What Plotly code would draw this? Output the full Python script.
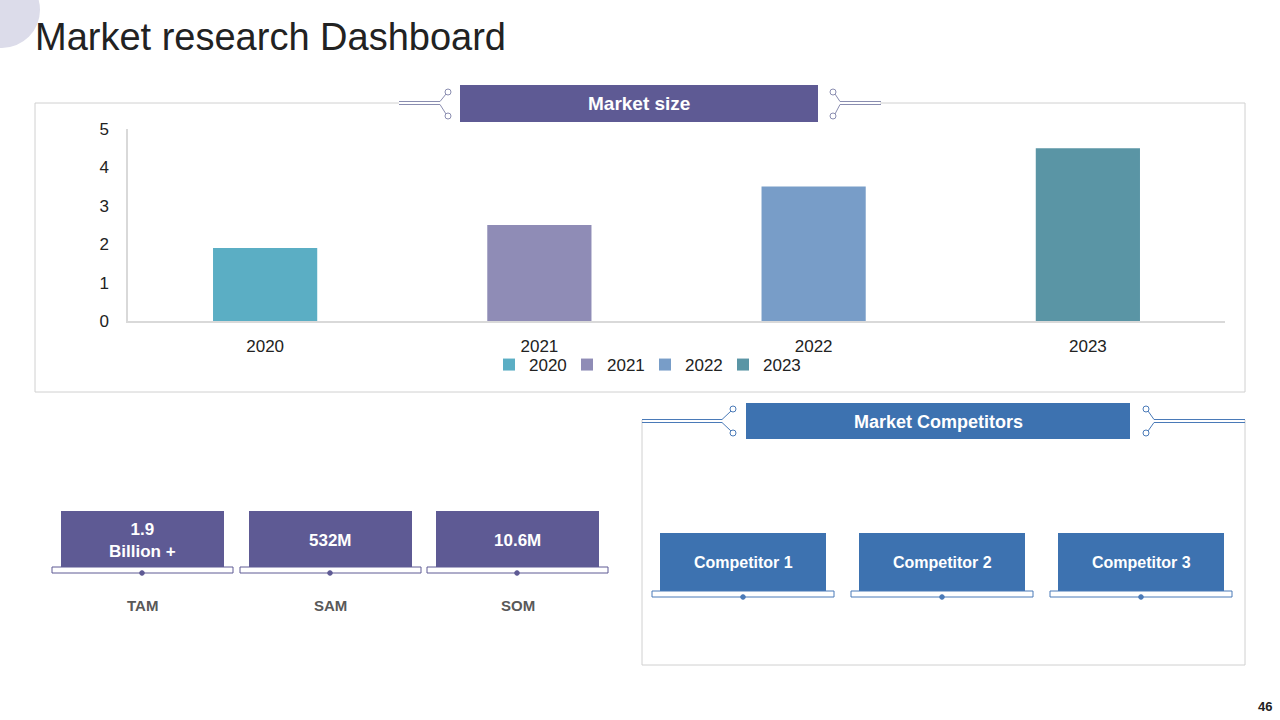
import plotly.graph_objects as go

# ---------------- data ----------------
years = ["2020", "2021", "2022", "2023"]
market_size = [1.9, 2.5, 3.5, 4.5]
bar_colors = ["#5BAEC4", "#8F8CB6", "#789DC8", "#5A95A5"]
y_ticks = [0, 1, 2, 3, 4, 5]

tam_values = ["1.9<br>Billion +", "532M", "10.6M"]
tam_labels = ["TAM", "SAM", "SOM"]
competitors = ["Competitor 1", "Competitor 2", "Competitor 3"]

W, H = 1280, 720
def X(p):
    return p / W
def Y(p):
    return 1 - p / H

PURPLE = "#5E5A94"
BLUE = "#3D72B0"
FONT = "Liberation Sans, Arial, sans-serif"

fig = go.Figure()
for yr, val, col in zip(years, market_size, bar_colors):
    fig.add_trace(go.Bar(x=[yr], y=[val], name=yr, marker_color=col,
                         width=0.38, marker_line_width=0, showlegend=True))

shapes = []
annotations = []

def line(x0, y0, x1, y1, color, w=1.0):
    shapes.append(dict(type="line", xref="paper", yref="paper",
                       x0=X(x0), y0=Y(y0), x1=X(x1), y1=Y(y1),
                       line=dict(color=color, width=w)))

def rect(x0, y0, x1, y1, fill, lc=None, lw=0):
    shapes.append(dict(type="rect", xref="paper", yref="paper",
                       x0=X(x0), y0=Y(y0), x1=X(x1), y1=Y(y1),
                       fillcolor=fill, line=dict(color=lc or fill, width=lw),
                       layer="above"))

def circ(cx, cy, r, fill, lc, lw=1):
    shapes.append(dict(type="circle", xref="paper", yref="paper",
                       x0=X(cx - r), y0=Y(cy + r), x1=X(cx + r), y1=Y(cy - r),
                       fillcolor=fill, line=dict(color=lc, width=lw), layer="above"))

def text(x, y, s, size, color, bold=False, xanchor="center"):
    annotations.append(dict(xref="paper", yref="paper", x=X(x), y=Y(y), text=(f"<b>{s}</b>" if bold else s),
                            showarrow=False, xanchor=xanchor, yanchor="middle",
                            font=dict(family=FONT, size=size, color=color)))

# top-left decorative circle
circ(2, 10, 38, "#DCDCEA", "#DCDCEA", 0)

# title
text(33, 37, "Market research Dashboard", 38, "#222222", xanchor="left")

# ---------- Market size box ----------
BOXC = "#D0D0D0"
line(35, 103, 35, 392, BOXC)
line(1245, 103, 1245, 392, BOXC)
line(35, 392, 1245, 392, BOXC)
line(35, 103, 399, 103, BOXC)
line(880, 103, 1245, 103, BOXC)

CON1 = "#8A8DB0"
def connectors(xl0, xl1, cxl, xr0, xr1, cxr, ytop, ybot, yline, color):
    # left
    line(xl0, yline - 1.5, xl1, yline - 1.5, color)
    line(xl0, yline + 1.5, xl1, yline + 1.5, color)
    line(xl1, yline - 1.5, cxl - 2, ytop + 2, color)
    line(xl1, yline + 1.5, cxl - 2, ybot - 2, color)
    circ(cxl, ytop, 3, "white", color)
    circ(cxl, ybot, 3, "white", color)
    # right
    line(xr0, yline - 1.5, xr1, yline - 1.5, color)
    line(xr0, yline + 1.5, xr1, yline + 1.5, color)
    line(xr0, yline - 1.5, cxr + 2, ytop + 2, color)
    line(xr0, yline + 1.5, cxr + 2, ybot - 2, color)
    circ(cxr, ytop, 3, "white", color)
    circ(cxr, ybot, 3, "white", color)

connectors(399, 440, 448, 840, 881, 833, 92, 116, 103, CON1)
rect(460, 85, 818, 122, PURPLE)
text(639, 104, "Market size", 19, "white", bold=True)

# ---------- TAM / SAM / SOM ----------
tam_x = [61, 249, 436]
for x0, val, lab in zip(tam_x, tam_values, tam_labels):
    x1 = x0 + 163
    cx = (x0 + x1) / 2
    rect(x0, 511, x1, 567, PURPLE)
    rect(x0 - 9, 567, x1 + 9, 573, "white", PURPLE, 1)
    circ(cx - 0.5, 573, 2.3, PURPLE, PURPLE)
    text(cx, 540, val, 17, "white", bold=True)
    text(cx, 605, lab, 15, "#595959", bold=True)

# ---------- Market Competitors box ----------
CON2 = "#4A7AB8"
line(642, 420, 642, 665, BOXC)
line(1245, 420, 1245, 665, BOXC)
line(642, 665, 1245, 665, BOXC)
connectors(642, 722, 733, 1154, 1245, 1146, 409, 433, 421, CON2)
rect(746, 403, 1130, 439, BLUE)
text(938, 422, "Market Competitors", 18, "white", bold=True)

comp_x = [660, 859, 1058]
for x0, name in zip(comp_x, competitors):
    x1 = x0 + 166
    cx = (x0 + x1) / 2
    rect(x0, 533, x1, 591, BLUE)
    rect(x0 - 8, 591, x1 + 8, 597, "white", CON2, 1)
    circ(cx, 597, 2.3, CON2, CON2)
    text(cx, 562, name, 16, "white", bold=True)

# page number
text(1265, 706, "46", 13, "#222222", bold=True)

fig.update_layout(
    width=W, height=H,
    margin=dict(l=0, r=0, t=0, b=0, pad=0, autoexpand=False),
    paper_bgcolor="white", plot_bgcolor="white",
    barmode="overlay",
    shapes=shapes, annotations=annotations,
    font=dict(family=FONT, color="#222222"),
    xaxis=dict(domain=[X(128), X(1225)], type="category", categoryorder="array",
               categoryarray=years, showline=True, linecolor="#D9D9D9", linewidth=1.5,
               showgrid=False, ticks="", tickfont=dict(size=17, color="#222222"),
               ticklabelstandoff=9, fixedrange=True, automargin=False),
    yaxis=dict(domain=[Y(321), Y(129)], range=[0, 5], tickvals=y_ticks,
               showline=True, linecolor="#D9D9D9", linewidth=1.5, showgrid=False,
               zeroline=False, ticks="", tickfont=dict(size=17, color="#222222"),
               ticklabelstandoff=14, fixedrange=True, automargin=False),
    legend=dict(orientation="h", x=X(645), y=Y(365), xanchor="center", yanchor="middle",
                font=dict(size=17, color="#222222"), itemwidth=30, bgcolor="rgba(0,0,0,0)",
                entrywidth=33, entrywidthmode="pixels"),
    showlegend=True,
)

post = ("document.documentElement.style.margin='0';document.body.style.margin='0';"
        "document.body.style.overflow='hidden';"
        "var d=document.getElementById('{plot_id}');d.style.position='fixed';"
        "d.style.left='0px';d.style.top='0px';")
fig.write_html("out.html", post_script=post, config={"displayModeBar": False})
